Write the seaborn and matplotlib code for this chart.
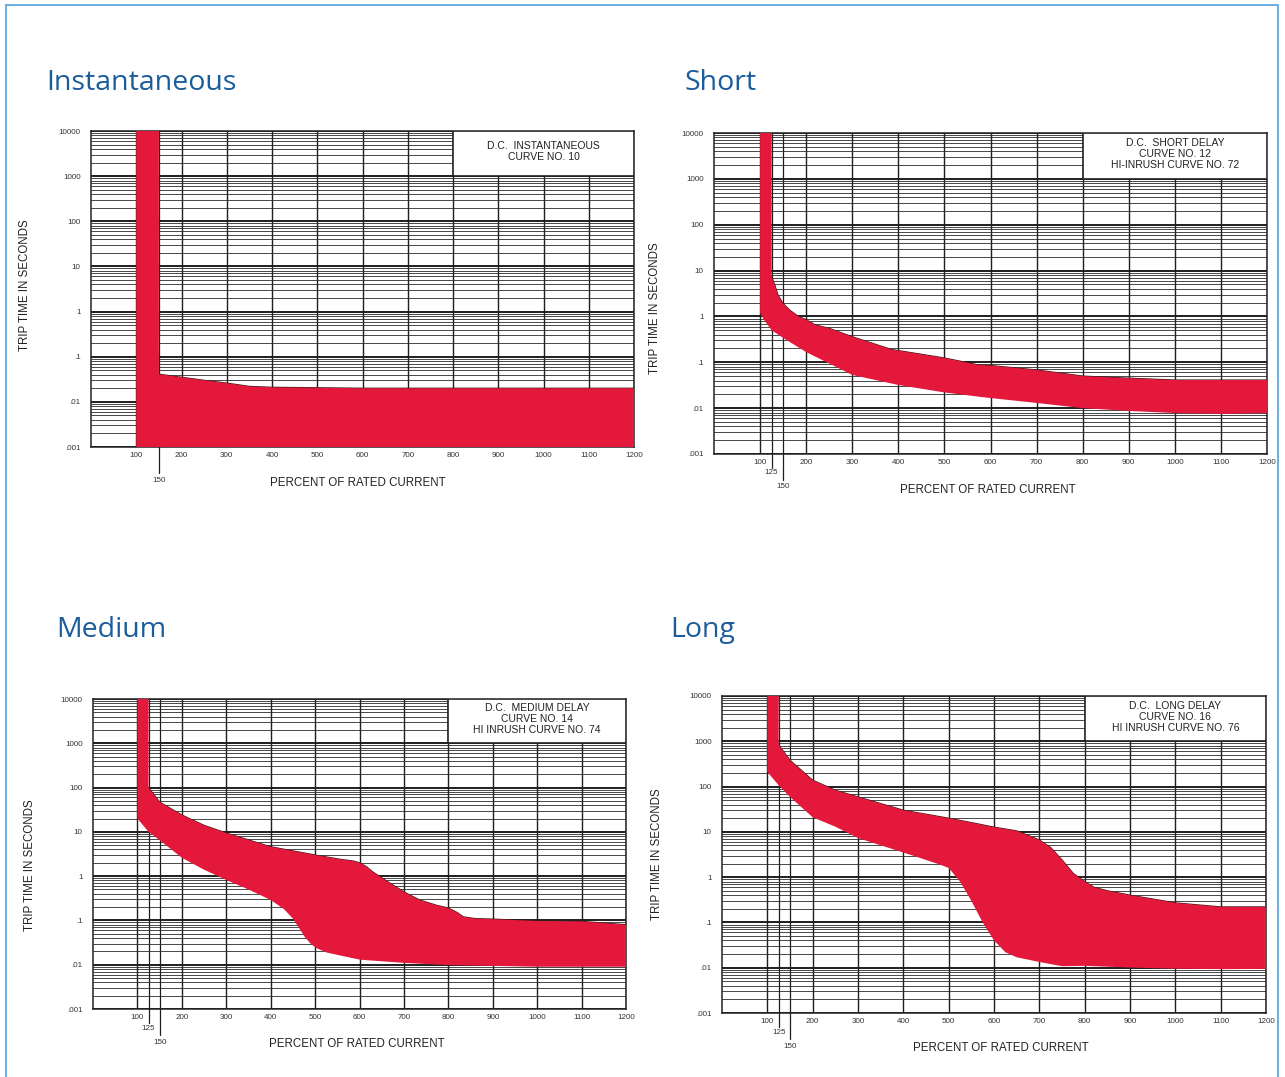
import numpy as np
import matplotlib
matplotlib.use("Agg")
import matplotlib.pyplot as plt
from matplotlib.patches import Rectangle
import seaborn as sns

# ---------------- data (percent of rated current vs trip time, s) ----------------
inst_upper_x = [100, 150, 150, 200, 250, 300, 350, 400, 500, 600, 700, 800, 900, 1000, 1100, 1200]
inst_upper_y = [10000, 10000, 0.041, 0.035, 0.030, 0.026, 0.022, 0.021, 0.0205, 0.020, 0.020, 0.020,
                0.020, 0.020, 0.020, 0.020]
inst_lower_x = [100, 100, 1200]
inst_lower_y = [10000, 0.001, 0.001]

short_upper_x = [100, 125, 125, 132, 139, 150, 165, 183, 200, 220, 250, 300, 385, 500, 575, 600, 700,
                 800, 900, 1000, 1100, 1200]
short_upper_y = [10000, 10000, 7.4, 4.8, 2.9, 1.9, 1.35, 1.0, 0.85, 0.65, 0.55, 0.36, 0.19, 0.124,
                 0.087, 0.085, 0.068, 0.050, 0.045, 0.041, 0.041, 0.041]
short_lower_x = [100, 100, 110, 125, 150, 200, 300, 400, 500, 580, 600, 700, 800, 900, 1000, 1100, 1200]
short_lower_y = [10000, 1.18, 0.8, 0.5, 0.34, 0.167, 0.053, 0.032, 0.022, 0.0175, 0.0166, 0.013, 0.010,
                 0.0087, 0.0078, 0.0075, 0.0078]

med_upper_x = [100, 125, 125, 150, 200, 250, 300, 400, 500, 556, 585, 600, 615, 630, 668, 700, 735,
               773, 800, 820, 834, 860, 900, 1000, 1100, 1200]
med_upper_y = [10000, 10000, 100, 47, 24, 14, 9.4, 4.6, 3.0, 2.4, 2.2, 2.0, 1.65, 1.24, 0.70, 0.44,
               0.29, 0.22, 0.19, 0.15, 0.12, 0.11, 0.107, 0.097, 0.095, 0.08]
med_lower_x = [100, 100, 125, 150, 200, 250, 300, 350, 400, 430, 450, 465, 477, 490, 502, 525, 551,
               601, 700, 800, 900, 1000, 1100, 1200]
med_lower_y = [10000, 20, 10, 6.5, 2.6, 1.4, 0.82, 0.5, 0.29, 0.18, 0.11, 0.065, 0.042, 0.03, 0.024,
               0.019, 0.0166, 0.013, 0.011, 0.0098, 0.0094, 0.009, 0.009, 0.009]

long_upper_x = [100, 125, 125, 150, 200, 250, 300, 400, 500, 550, 600, 650, 680, 700, 725, 750, 775,
                800, 820, 850, 900, 1000, 1100, 1200]
long_upper_y = [10000, 10000, 830, 380, 138, 83, 59, 30, 20, 16, 12.7, 10.5, 8.0, 6.6, 4.5, 2.4, 1.2,
                0.8, 0.6, 0.5, 0.40, 0.27, 0.22, 0.22]
long_lower_x = [100, 100, 125, 150, 200, 250, 300, 400, 450, 480, 500, 525, 550, 575, 600, 625, 650,
                700, 750, 800, 900, 1000, 1100, 1200]
long_lower_y = [10000, 210, 107, 59, 21, 13, 7.3, 3.5, 2.4, 1.9, 1.6, 0.8, 0.3, 0.1, 0.04, 0.022,
                0.017, 0.0134, 0.0108, 0.011, 0.0101, 0.0095, 0.0093, 0.0094]

titles = ["Instantaneous", "Short", "Medium", "Long"]
box_texts = [
    "D.C.  INSTANTANEOUS\nCURVE NO. 10",
    "D.C.  SHORT DELAY\nCURVE NO. 12\nHI-INRUSH CURVE NO. 72",
    "D.C.  MEDIUM DELAY\nCURVE NO. 14\nHI INRUSH CURVE NO. 74",
    "D.C.  LONG DELAY\nCURVE NO. 16\nHI INRUSH CURVE NO. 76",
]
x_ticks = [100, 200, 300, 400, 500, 600, 700, 800, 900, 1000, 1100, 1200]
y_ticks = [0.001, 0.01, 0.1, 1, 10, 100, 1000, 10000]
y_tick_labels = [".001", ".01", ".1", "1", "10", "100", "1000", "10000"]
x_label = "PERCENT OF RATED CURRENT"
y_label = "TRIP TIME IN SECONDS"

# ---------------- style ----------------
sns.set_style("white")
plt.rcParams['font.family'] = ['Liberation Sans', 'DejaVu Sans']

W, H = 1285, 1077
fig = plt.figure(figsize=(W / 100, H / 100), dpi=100)

RED = '#E4183A'
BLUE = '#1B5C9B'
GRID = '#1e1e1e'

# figure frame
fig.add_artist(Rectangle((6 / W, -0.01), (1278 - 6) / W, 1 - 5 / H + 0.01, transform=fig.transFigure,
                         fill=False, edgecolor='#5DA9DE', lw=1.3))

layouts = [
    dict(px=(91, 131, 634, 447), title_xy=(46, 83), ylab=(25, 285), xlab=(358, 483), extra=[150]),
    dict(px=(714, 133, 1267, 454), title_xy=(684, 83), ylab=(655, 308), xlab=(988, 490), extra=[125, 150]),
    dict(px=(93, 699, 626, 1009), title_xy=(56, 630), ylab=(30, 865), xlab=(357, 1044), extra=[125, 150]),
    dict(px=(722, 696, 1266, 1013), title_xy=(670, 630), ylab=(657, 854), xlab=(1001, 1048), extra=[125, 150]),
]
curves = [
    (inst_upper_x, inst_upper_y, inst_lower_x, inst_lower_y),
    (short_upper_x, short_upper_y, short_lower_x, short_lower_y),
    (med_upper_x, med_upper_y, med_lower_x, med_lower_y),
    (long_upper_x, long_upper_y, long_lower_x, long_lower_y),
]
extra_offsets = {125: (14, 19), 150: (26, 33)}

for lay, (ux, uy, lx, ly), title, btxt in zip(layouts, curves, titles, box_texts):
    x0, y0, x1, y1 = lay['px']
    rect = [x0 / W, 1 - y1 / H, (x1 - x0) / W, (y1 - y0) / H]
    hpx = y1 - y0
    ax = fig.add_axes(rect)
    ax.set_yscale('log')
    ax.set_xlim(0, 1200)
    ax.set_ylim(1e-3, 1e4)

    # grid
    ax.set_xticks(x_ticks)
    ax.set_xticklabels([str(v) for v in x_ticks])
    ax.set_yticks(y_ticks)
    ax.set_yticklabels(y_tick_labels)
    ax.yaxis.set_minor_locator(matplotlib.ticker.LogLocator(base=10, subs=np.arange(2, 10), numticks=20))
    ax.yaxis.set_minor_formatter(matplotlib.ticker.NullFormatter())
    ax.grid(True, which='major', axis='y', color=GRID, lw=1.4, zorder=0)
    ax.grid(True, which='minor', axis='y', color='#2a2a2a', lw=0.6, zorder=0)
    ax.grid(True, which='major', axis='x', color=GRID, lw=1.0, zorder=0)
    ax.set_axisbelow(True)
    ax.tick_params(axis='x', which='both', length=0, pad=3.3, labelsize=5.8, labelcolor='#333333')
    ax.tick_params(axis='y', which='major', length=3, width=0.8, direction='out', pad=4.5,
                   labelsize=5.8, labelcolor='#333333', color='#333333')
    ax.tick_params(axis='y', which='minor', length=0)
    for s in ax.spines.values():
        s.set_color('#222222')
        s.set_linewidth(1.1)

    # extra 125 / 150 lines extending below the axis
    trans = ax.get_xaxis_transform()
    for xv in lay['extra']:
        ln, lb = extra_offsets[xv]
        ax.plot([xv, xv], [1, -ln / hpx], transform=trans, color=GRID, lw=0.9, clip_on=False, zorder=0.5)
        ax.text(xv, -lb / hpx, str(xv), transform=trans, ha='center', va='center', fontsize=5.8,
                color='#333333')

    # red band
    px_ = np.concatenate([ux, lx[::-1]])
    py_ = np.concatenate([uy, ly[::-1]])
    ax.fill(px_, py_, color=RED, lw=0, zorder=3)
    sns.lineplot(x=ux[2:], y=uy[2:], ax=ax, color='#3a1a1a', lw=0.9, sort=False, estimator=None,
                 legend=False, zorder=2.9)

    # legend box
    ax.add_patch(Rectangle((800, 1000), 400, 9000, facecolor='white', edgecolor='#222222', lw=1.2,
                           zorder=5))
    ax.text(1000, 10 ** 3.54, btxt, ha='center', va='center', fontsize=7.5, linespacing=1.12,
            color='#222222', zorder=6)

    ax.set_xlabel('')
    ax.set_ylabel('')

    # labels
    tx, ty = lay['title_xy']
    fig.text(tx / W, 1 - ty / H, title, ha='left', va='center', fontsize=20.5, color=BLUE,
             family=['Open Sans', 'DejaVu Sans'])
    lx_, ly_ = lay['ylab']
    fig.text(lx_ / W, 1 - ly_ / H, y_label, rotation=90, ha='center', va='center', fontsize=8.3,
             color='#222222')
    xx, xy = lay['xlab']
    fig.text(xx / W, 1 - xy / H, x_label, ha='center', va='center', fontsize=8.3, color='#222222')

fig.savefig('out.png', dpi=100, facecolor='white')
